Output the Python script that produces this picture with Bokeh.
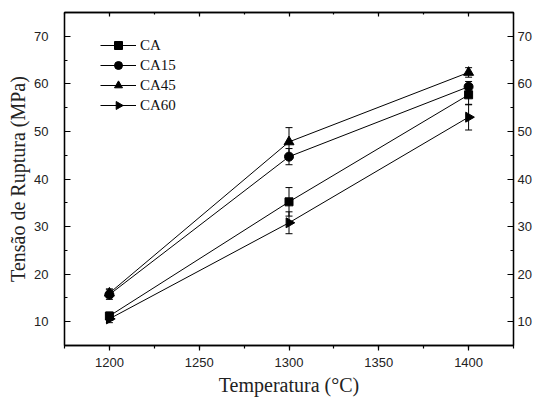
from bokeh.plotting import figure
from bokeh.models import (ColumnDataSource, Whisker, TeeHead, LinearAxis, SingleIntervalTicker,
                          Range1d, Legend, LegendItem)
from bokeh.embed import file_html
from bokeh.resources import INLINE

temps = [1200, 1300, 1400]
series = ["CA", "CA15", "CA45", "CA60"]
ca = [11.2, 35.2, 57.7]
ca_err = [0.8, 3.0, 2.1]
ca15 = [15.7, 44.7, 59.4]
ca15_err = [1.0, 1.7, 1.1]
ca45 = [16.0, 47.8, 62.4]
ca45_err = [0.9, 3.0, 1.0]
ca60 = [10.6, 30.8, 53.0]
ca60_err = [0.8, 2.3, 2.7]

markers = ["square", "circle", "triangle", "triangle"]
angles = [0, 0, 0, -1.5708]
sizes = [8, 9, 10, 10]

X0, X1, Y0, Y1 = 1175, 1425, 5, 75
W, H = 534, 400
BL, BR, BT, BB = 64, 21, 12, 55
FW, FH = W - BL - BR, H - BT - BB

p = figure(width=W, height=H, output_backend="svg", toolbar_location=None,
           x_range=Range1d(X0, X1), y_range=Range1d(Y0, Y1),
           min_border_left=BL, min_border_right=BR, min_border_top=BT, min_border_bottom=BB,
           x_axis_label="Temperatura (°C)", y_axis_label="Tensão de Ruptura (MPa)")
p.grid.visible = False
p.outline_line_color = "black"
p.outline_line_width = 1.3
p.background_fill_color = "white"
p.border_fill_color = "white"

xax = p.xaxis[0]
xax.ticker = SingleIntervalTicker(interval=50, num_minor_ticks=2)
yax = p.yaxis[0]
yax.ticker = SingleIntervalTicker(interval=10, num_minor_ticks=2)

for ax in (xax, yax):
    ax.axis_line_width = 1.3
    ax.major_tick_line_width = 1.2
    ax.minor_tick_line_width = 1.2
    ax.major_label_text_font = "Liberation Sans"
    ax.major_label_text_font_size = "13px"
    ax.major_label_text_color = "#222222"
    ax.axis_label_text_font = "Liberation Serif"
    ax.axis_label_text_font_size = "20px"
    ax.axis_label_text_font_style = "normal"
    ax.axis_label_text_color = "#222222"

xax.major_tick_out = 5
xax.major_tick_in = 0
xax.minor_tick_out = 3
xax.minor_tick_in = 0
xax.major_label_standoff = 7
xax.axis_label_standoff = 4

yax.major_tick_out = 0
yax.major_tick_in = 6
yax.minor_tick_out = 0
yax.minor_tick_in = 3
yax.major_label_standoff = 16
yax.axis_label_standoff = 2

top = LinearAxis(ticker=SingleIntervalTicker(interval=50, num_minor_ticks=2),
                 major_label_text_font_size="1px", major_label_text_color=None,
                 major_label_standoff=0,
                 major_tick_in=4, major_tick_out=0, minor_tick_in=2, minor_tick_out=0,
                 axis_line_width=1.3, major_tick_line_width=1.2, minor_tick_line_width=1.2)
p.add_layout(top, "above")

right = LinearAxis(ticker=SingleIntervalTicker(interval=10, num_minor_ticks=2),
                   major_tick_in=6, major_tick_out=0, minor_tick_in=3, minor_tick_out=0,
                   major_label_standoff=4, major_label_text_font="Liberation Sans",
                   major_label_text_font_size="13px", major_label_text_color="#222222",
                   axis_line_width=1.3, major_tick_line_width=1.2, minor_tick_line_width=1.2)
p.add_layout(right, "right")

vals = [ca, ca15, ca45, ca60]
errs = [ca_err, ca15_err, ca45_err, ca60_err]

# legend layout (screen px relative to frame)
LEG_X, LEG_Y, GW, ROW = 36, 230, 36, 20

items = []
for i, (name, v, e, m, a, s) in enumerate(zip(series, vals, errs, markers, angles, sizes)):
    src = ColumnDataSource(dict(x=temps, y=v,
                                up=[yy + ee for yy, ee in zip(v, e)],
                                lo=[yy - ee for yy, ee in zip(v, e)]))
    w = Whisker(source=src, base="x", upper="up", lower="lo", dimension="height",
                line_color="black", line_width=1,
                upper_head=TeeHead(size=7, line_color="black", line_width=1),
                lower_head=TeeHead(size=7, line_color="black", line_width=1))
    p.add_layout(w)
    r1 = p.line("x", "y", source=src, line_color="black", line_width=1)
    r2 = p.scatter("x", "y", source=src, marker=m, size=s, angle=a,
                   fill_color="black", line_color="black")
    if a == 0:
        items.append(LegendItem(label=name, renderers=[r1, r2]))
    else:
        items.append(LegendItem(label=name, renderers=[r1]))
        # rotated marker for the legend entry (legend glyphs ignore angle)
        row_center = LEG_Y + ROW * (len(series) - i) - ROW / 2
        lx = X0 + (LEG_X + GW / 2) * (X1 - X0) / FW
        ly = Y0 + row_center * (Y1 - Y0) / FH
        p.scatter([lx], [ly], marker=m, size=8, angle=a,
                  fill_color="black", line_color="black")

legend = Legend(items=items, location=(LEG_X, LEG_Y), padding=0, margin=0, spacing=0,
                glyph_width=GW, glyph_height=ROW, label_height=ROW, label_standoff=4,
                label_text_font="Liberation Serif", label_text_font_size="15px",
                label_text_color="#111111",
                background_fill_alpha=0, border_line_alpha=0)
p.add_layout(legend)

open("out.html", "w").write(file_html(p, INLINE))
